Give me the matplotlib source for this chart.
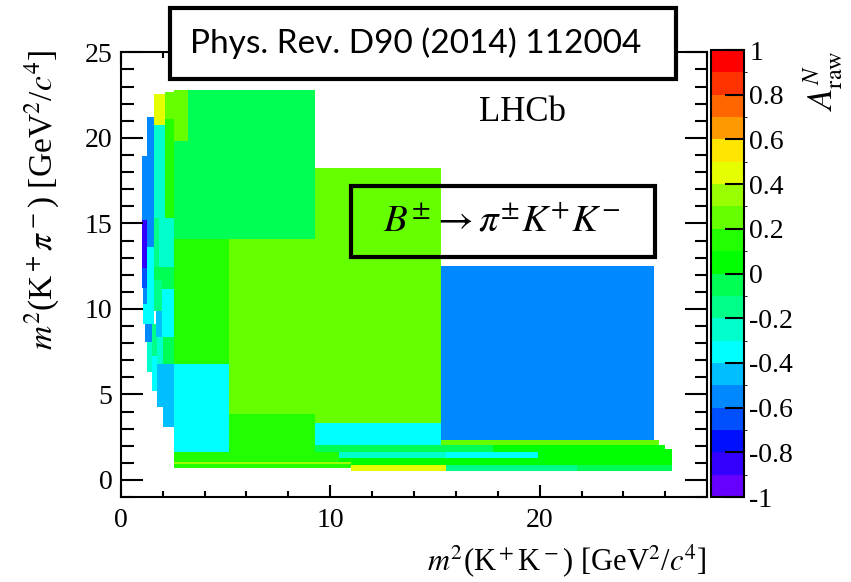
import matplotlib
matplotlib.use('Agg')
import matplotlib.pyplot as plt
from matplotlib.colors import ListedColormap, BoundaryNorm
from matplotlib.patches import Rectangle
from matplotlib.ticker import MultipleLocator
import numpy as np

plt.rcParams['font.family'] = ['Liberation Serif', 'DejaVu Serif']
plt.rcParams['mathtext.fontset'] = 'stix'

# bins of the raw asymmetry map (edges in GeV^2/c^4) and their A_raw value
bin_x0 = [3.20, 2.53, 2.53, 2.10, 2.10, 1.58, 1.58, 1.24, 1.00, 1.00,
          1.24, 1.58, 1.82, 1.58, 1.00, 1.05, 1.05, 1.15, 1.24, 1.48,
          1.48, 1.58, 1.67, 1.96, 1.96, 1.72, 2.01, 1.72, 2.01, 2.53,
          2.53, 5.16, 9.27, 5.16, 9.27, 15.29, 15.29, 9.27, 17.77, 2.53,
          10.42, 15.53, 19.92, 10.42, 2.53, 2.53, 10.99, 15.53, 21.79, 26.00]
bin_x1 = [9.27, 3.20, 3.20, 2.53, 2.53, 2.10, 2.10, 1.58, 1.24, 1.24,
          1.58, 1.82, 2.53, 2.53, 1.24, 1.24, 1.24, 1.48, 1.48, 1.72,
          1.72, 1.96, 1.96, 2.53, 2.53, 2.01, 2.53, 2.53, 2.53, 5.16,
          5.16, 9.27, 15.29, 9.27, 15.29, 25.47, 25.70, 17.77, 26.00, 10.42,
          15.53, 19.92, 26.33, 26.33, 10.99, 10.99, 15.53, 21.79, 26.33, 26.33]
bin_y0 = [14.07, 14.07, 19.80, 21.10, 15.30, 20.75, 15.30, 13.64, 15.21, 12.41,
          9.09, 12.47, 12.47, 11.71, 11.25, 10.31, 9.09, 8.04, 6.29, 7.23,
          5.19, 9.85, 8.33, 11.19, 8.33, 6.76, 6.76, 4.25, 3.09, 1.63,
          6.76, 3.85, 3.32, 1.63, 2.04, 2.33, 2.04, 1.63, 1.63, 1.05,
          1.28, 1.28, 1.28, 0.87, 0.93, 0.70, 0.50, 0.50, 0.50, 1.63]
bin_y1 = [22.80, 19.80, 22.80, 22.70, 21.10, 22.55, 20.75, 21.21, 18.94, 15.21,
          13.64, 15.30, 15.30, 12.47, 12.41, 11.25, 10.31, 9.09, 8.04, 9.09,
          7.23, 11.71, 9.85, 11.71, 11.19, 8.33, 8.33, 6.76, 4.25, 6.76,
          14.07, 14.07, 18.24, 3.85, 3.32, 12.53, 2.33, 2.04, 2.04, 1.63,
          1.63, 1.63, 1.63, 1.28, 1.05, 0.93, 0.87, 0.87, 0.87, 1.81]
a_raw = [-0.05, -0.05, 0.25, 0.25, 0.15, 0.45, -0.25, -0.55, -0.55, -0.85,
         -0.35, -0.15, -0.25, -0.05, -0.65, -0.55, -0.35, -0.55, -0.25, -0.15,
         -0.35, -0.15, -0.45, -0.05, -0.35, -0.25, -0.05, -0.45, -0.45, -0.35,
         0.15, 0.25, 0.25, 0.15, -0.35, -0.55, 0.25, -0.05, 0.05, 0.15,
         -0.25, -0.35, 0.05, 0.05, 0.35, 0.15, 0.45, -0.15, -0.05, 0.05]

# ROOT-like 20 step palette from -1 to 1
palette = ['#6600FF', '#3300FF', '#0010FF', '#0050FF', '#0088FF', '#00BFFF',
           '#00FFFF', '#00FFCC', '#00FF88', '#00FF55', '#00FF00', '#22FF00',
           '#66FF00', '#99FF00', '#E6FF00', '#FFE600', '#FF9900', '#FF6600',
           '#FF3300', '#FF0000']
cbar_ticks = [-1, -0.8, -0.6, -0.4, -0.2, 0, 0.2, 0.4, 0.6, 0.8, 1]
cbar_labels = ['-1', '-0.8', '-0.6', '-0.4', '-0.2', '0',
               '0.2', '0.4', '0.6', '0.8', '1']

cmap = ListedColormap(palette)
norm = BoundaryNorm(np.linspace(-1, 1, 21), cmap.N)

fig = plt.figure(figsize=(8.51, 5.82), dpi=100)
ax = fig.add_axes([0.142, 0.146, 0.689, 0.764])
cax = fig.add_axes([0.836, 0.146, 0.038, 0.768])

x0 = np.array(bin_x0)
y0 = np.array(bin_y0)
ax.bar(x0, np.array(bin_y1) - y0, width=np.array(bin_x1) - x0, bottom=y0,
       align='edge', color=cmap(norm(np.array(a_raw))), linewidth=0)

ax.set_xlim(0, 28)
ax.set_ylim(-1, 25)
ax.xaxis.set_major_locator(MultipleLocator(10))
ax.xaxis.set_minor_locator(MultipleLocator(2))
ax.yaxis.set_major_locator(MultipleLocator(5))
ax.yaxis.set_minor_locator(MultipleLocator(1))
ax.tick_params(axis='both', which='both', direction='in', top=True, right=True,
               labelsize=20, width=1.5)
ax.tick_params(axis='y', which='major', length=16, pad=6)
ax.tick_params(axis='y', which='minor', length=9)
ax.tick_params(axis='x', which='major', length=9, pad=8)
ax.tick_params(axis='x', which='minor', length=4)
for s in ax.spines.values():
    s.set_linewidth(1.5)

ax.set_xlabel(r'$m^2$(K$^+$K$^-$) [GeV$^2$/$c^4$]', fontsize=22)
ax.xaxis.set_label_coords(0.761, -0.103)
ax.set_ylabel(r'$m^2$(K$^+\pi^-$) [GeV$^2$/$c^4$]', fontsize=24)
ax.yaxis.set_label_coords(-0.10, 0.667)

ax.text(19.2, 21.5, 'LHCb', fontsize=25, ha='center', va='center')

sm = plt.cm.ScalarMappable(cmap=cmap, norm=norm)
cb = fig.colorbar(sm, cax=cax, ticks=cbar_ticks)
cb.ax.set_yticklabels(cbar_labels)
cb.ax.tick_params(direction='in', length=14, width=1.5, labelsize=20, pad=4)
cb.outline.set_linewidth(1.5)
cb.set_label(r'$A^N_{\rm raw}$', fontsize=25, loc='top', labelpad=6)

# make sure tick numbers use the Times-like serif face
for lab in ax.get_xticklabels() + ax.get_yticklabels() + cb.ax.get_yticklabels():
    lab.set_fontfamily('Liberation Serif')

# reference boxes on top of the frame
fig.add_artist(Rectangle((0.200, 0.864), 0.594, 0.122, transform=fig.transFigure,
                         facecolor='white', edgecolor='black', linewidth=3))
fig.text(0.488, 0.926, 'Phys. Rev. D90 (2014) 112004', fontsize=24,
         family='Lato', ha='center', va='center')
fig.add_artist(Rectangle((0.4125, 0.558), 0.3575, 0.122, transform=fig.transFigure,
                         facecolor='none', edgecolor='black', linewidth=3))
fig.text(0.589, 0.620, r'$B^{\pm} \rightarrow \pi^{\pm} K^{+} K^{-}$', fontsize=28,
         ha='center', va='center')

fig.savefig('out.png', dpi=100)
